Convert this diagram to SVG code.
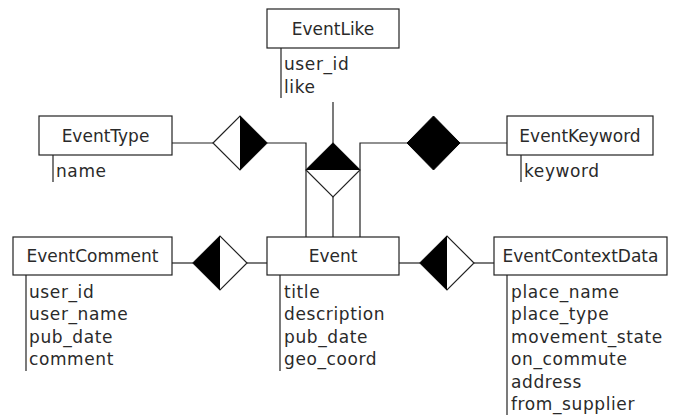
<svg xmlns="http://www.w3.org/2000/svg" width="683" height="416" viewBox="0 0 683 416">
  <style>
    .box { fill: #fff; stroke: #222; stroke-width: 1.2; }
    .attr { fill: none; stroke: #222; stroke-width: 1.2; }
    .edge { fill: none; stroke: #222; stroke-width: 1.2; }
    .dia { fill: #fff; stroke: #222; stroke-width: 1.2; stroke-linejoin: miter; }
    .half { fill: #000; stroke: none; }
    .full { fill: #000; stroke: #000; stroke-width: 1; }
    text { font-family: "DejaVu Sans", "Liberation Sans", sans-serif; font-size: 17px; fill: #2a2a2a; }
    .title { text-anchor: middle; }
    .field { letter-spacing: 0.6px; }
  </style>
  <rect width="683" height="416" fill="#fff"/>

  <!-- relationship lines and diamonds -->
  <g id="connectors">
    <!-- EventType to Event -->
    <polyline class="edge" points="172,143 213,143"/>
    <polyline class="edge" points="267,143 306,143 306,237"/>
    <polygon class="dia" points="213,143 240,116 267,143 240,170"/>
    <polygon class="half" points="240,116 267,143 240,170"/>

    <!-- EventKeyword to Event -->
    <polyline class="edge" points="360,237 360,143 407,143"/>
    <polyline class="edge" points="460,143 507,143"/>
    <polygon class="full" points="407,143 433.5,116 460,143 433.5,170"/>

    <!-- EventLike to Event -->
    <line class="edge" x1="333" y1="102" x2="333" y2="143"/>
    <line class="edge" x1="333" y1="197" x2="333" y2="237"/>
    <polygon class="dia" points="306,170 333,143 360,170 333,197"/>
    <polygon class="half" points="306,170 333,143 360,170"/>

    <!-- EventComment to Event -->
    <line class="edge" x1="172" y1="263" x2="193" y2="263"/>
    <line class="edge" x1="247" y1="263" x2="267" y2="263"/>
    <polygon class="dia" points="193,263 220,236 247,263 220,290"/>
    <polygon class="half" points="193,263 220,236 220,290"/>

    <!-- Event to EventContextData -->
    <line class="edge" x1="399" y1="263" x2="420" y2="263"/>
    <line class="edge" x1="474" y1="263" x2="494" y2="263"/>
    <polygon class="dia" points="420,263 447,236 474,263 447,290"/>
    <polygon class="half" points="420,263 447,236 447,290"/>
  </g>

  <g id="EventLike">
    <rect class="box" x="267" y="9" width="132" height="39"/>
    <text class="title" x="333" y="35">EventLike</text>
    <line class="attr" x1="281" y1="48" x2="281" y2="98"/>
    <text class="field" x="284" y="70">user_id</text>
    <text class="field" x="284" y="92.5">like</text>
  </g>

  <g id="EventType">
    <rect class="box" x="39" y="116" width="133" height="39"/>
    <text class="title" x="105.5" y="142">EventType</text>
    <line class="attr" x1="53" y1="155" x2="53" y2="182"/>
    <text class="field" x="56" y="177">name</text>
  </g>

  <g id="EventKeyword">
    <rect class="box" x="507" y="116" width="146" height="39"/>
    <text class="title" x="580" y="142">EventKeyword</text>
    <line class="attr" x1="521" y1="155" x2="521" y2="182"/>
    <text class="field" x="524" y="177">keyword</text>
  </g>

  <g id="EventComment">
    <rect class="box" x="13" y="237" width="159" height="38"/>
    <text class="title" x="92.5" y="262">EventComment</text>
    <line class="attr" x1="26" y1="275" x2="26" y2="371"/>
    <text class="field" x="29" y="297.5">user_id</text>
    <text class="field" x="29" y="320">user_name</text>
    <text class="field" x="29" y="342.5">pub_date</text>
    <text class="field" x="29" y="365">comment</text>
  </g>

  <g id="Event">
    <rect class="box" x="267" y="237" width="132" height="38"/>
    <text class="title" x="333" y="262">Event</text>
    <line class="attr" x1="280" y1="275" x2="280" y2="371"/>
    <text class="field" x="284" y="297.5">title</text>
    <text class="field" x="284" y="320">description</text>
    <text class="field" x="284" y="342.5">pub_date</text>
    <text class="field" x="284" y="365">geo_coord</text>
  </g>

  <g id="EventContextData">
    <rect class="box" x="494" y="237" width="173" height="38"/>
    <text class="title" x="580.5" y="262">EventContextData</text>
    <line class="attr" x1="507" y1="275" x2="507" y2="415"/>
    <text class="field" x="511" y="297.5">place_name</text>
    <text class="field" x="511" y="320">place_type</text>
    <text class="field" x="511" y="342.5">movement_state</text>
    <text class="field" x="511" y="365">on_commute</text>
    <text class="field" x="511" y="387.5">address</text>
    <text class="field" x="511" y="410">from_supplier</text>
  </g>
</svg>
